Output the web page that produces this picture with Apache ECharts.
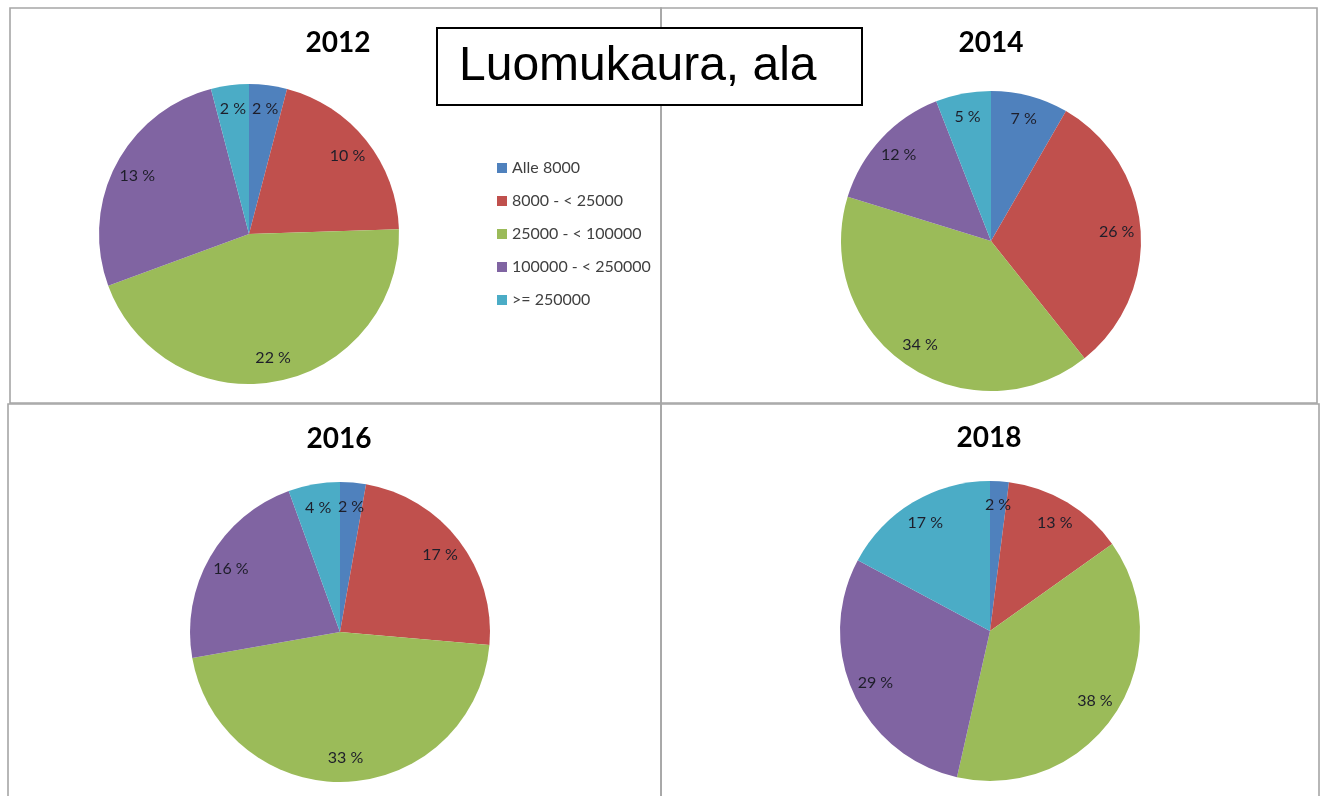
<!DOCTYPE html>
<html>
<head>
<meta charset="utf-8">
<script src="https://cdn.jsdelivr.net/npm/echarts@6/dist/echarts.min.js"></script>
<style>
html, body { margin:0; padding:0; background:#fff; }
#main { width:1325px; height:796px; }
</style>
</head>
<body>
<div id="main"></div>
<script>
// luokat ja vuosittaiset arvot (kuvan prosenttiluvut)
var categories = ['Alle 8000', '8000 - < 25000', '25000 - < 100000', '100000 - < 250000', '>= 250000'];
var years = ['2012', '2014', '2016', '2018'];
var values2012 = [2, 10, 22, 13, 2];
var values2014 = [7, 26, 34, 12, 5];
var values2016 = [2, 17, 33, 16, 4];
var values2018 = [2, 13, 38, 29, 17];
var colors = ['#4F81BD', '#C0504D', '#9BBB59', '#8064A2', '#4BACC6'];

var allValues = [values2012, values2014, values2016, values2018];
var centers = [[249, 234], [991, 241], [340, 632], [990, 631]];
var R = 150;

function toData(vals) {
    var d = [];
    for (var i = 0; i < categories.length; i++) {
        d.push({ name: categories[i], value: vals[i] });
    }
    return d;
}

var series = [];
// varsinaiset piirakat
for (var k = 0; k < years.length; k++) {
    series.push({
        name: years[k],
        type: 'pie',
        center: centers[k],
        radius: R,
        startAngle: 90,
        clockwise: true,
        label: { show: false },
        labelLine: { show: false },
        itemStyle: { borderWidth: 0 },
        emphasis: { disabled: true },
        data: toData(allValues[k])
    });
}
// tekstit lähellä reunaa (excel "inside end")
for (var k = 0; k < years.length; k++) {
    series.push({
        type: 'pie',
        center: centers[k],
        radius: [R * 0.64, R],
        startAngle: 90,
        clockwise: true,
        silent: true,
        itemStyle: { color: 'rgba(0,0,0,0)', borderWidth: 0 },
        label: {
            show: true,
            position: 'inside',
            formatter: '{c} %',
            fontFamily: 'Lato, sans-serif',
            fontSize: 16,
            color: '#1e1e2a'
        },
        labelLine: { show: false },
        emphasis: { disabled: true },
        data: toData(allValues[k])
    });
}

var border = { stroke: '#a6a6a6', lineWidth: 1.6, fill: null };
var graphic = [
    { type: 'rect', z: 0, shape: { x: 10, y: 8, width: 651, height: 395 }, style: border },
    { type: 'rect', z: 0, shape: { x: 661, y: 8, width: 656, height: 395 }, style: border },
    { type: 'rect', z: 0, shape: { x: 8, y: 404, width: 653, height: 400 }, style: border },
    { type: 'rect', z: 0, shape: { x: 661, y: 404, width: 658, height: 400 }, style: border },
    { type: 'rect', z: 10, shape: { x: 437, y: 28, width: 425, height: 77 },
      style: { fill: '#fff', stroke: '#000', lineWidth: 2 } },
    { type: 'text', z: 11, x: 459, y: 67,
      style: { text: 'Luomukaura, ala', fill: '#000', font: '48px "Liberation Sans", Arial, sans-serif',
               textAlign: 'left', textVerticalAlign: 'middle' } }
];
var titlePos = [[338, 43], [991, 43], [339, 439], [989, 438]];
for (var k = 0; k < years.length; k++) {
    graphic.push({
        type: 'text', z: 11, x: titlePos[k][0], y: titlePos[k][1],
        style: { text: years[k], fill: '#000', font: 'bold 28px Lato, sans-serif',
                 textAlign: 'center', textVerticalAlign: 'middle' }
    });
}

var myChart = echarts.init(document.getElementById('main'));
myChart.setOption({
    animation: false,
    color: colors,
    legend: {
        orient: 'vertical',
        left: 497,
        top: 159,
        padding: 0,
        icon: 'rect',
        itemWidth: 10,
        itemHeight: 10,
        itemGap: 15,
        selectedMode: false,
        data: categories,
        textStyle: { fontFamily: 'Lato, sans-serif', fontSize: 16, color: '#404040', lineHeight: 18 }
    },
    graphic: graphic,
    series: series
});
</script>
</body>
</html>
